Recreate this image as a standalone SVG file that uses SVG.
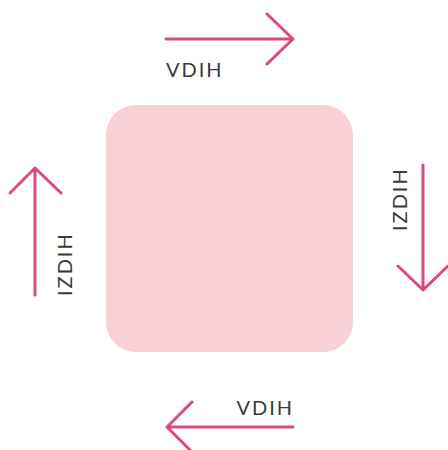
<svg xmlns="http://www.w3.org/2000/svg" width="448" height="450" viewBox="0 0 448 450">
<style>
.arr{fill:none;stroke:#dc4a7b;stroke-width:3;stroke-linecap:round;stroke-linejoin:round}
.lbl{font-family:Lato,"Liberation Sans",sans-serif;font-size:20px;fill:#3a3a3a;letter-spacing:2px}
</style>
<g id="box"><rect x="106" y="105" width="247" height="247" rx="30" fill="#f8d0d5"/></g>
<g id="connectors">
<g id="top"><path class="arr" d="M166 39H293M267 14L293 39L267 64"/><text class="lbl" x="166" y="77">VDIH</text></g>
<g id="right"><path class="arr" d="M423 165V290M398 266L423 290L448 266"/><text class="lbl" transform="translate(407,231) rotate(-90)">IZDIH</text></g>
<g id="bottom"><path class="arr" d="M293 427H167M192 402L167 427L192 452"/><text class="lbl" x="294" y="415" text-anchor="end">VDIH</text></g>
<g id="left"><path class="arr" d="M35 295V168M10 193L35 168L61 193"/><text class="lbl" transform="translate(72,296) rotate(-90)">IZDIH</text></g>
</g>
</svg>
